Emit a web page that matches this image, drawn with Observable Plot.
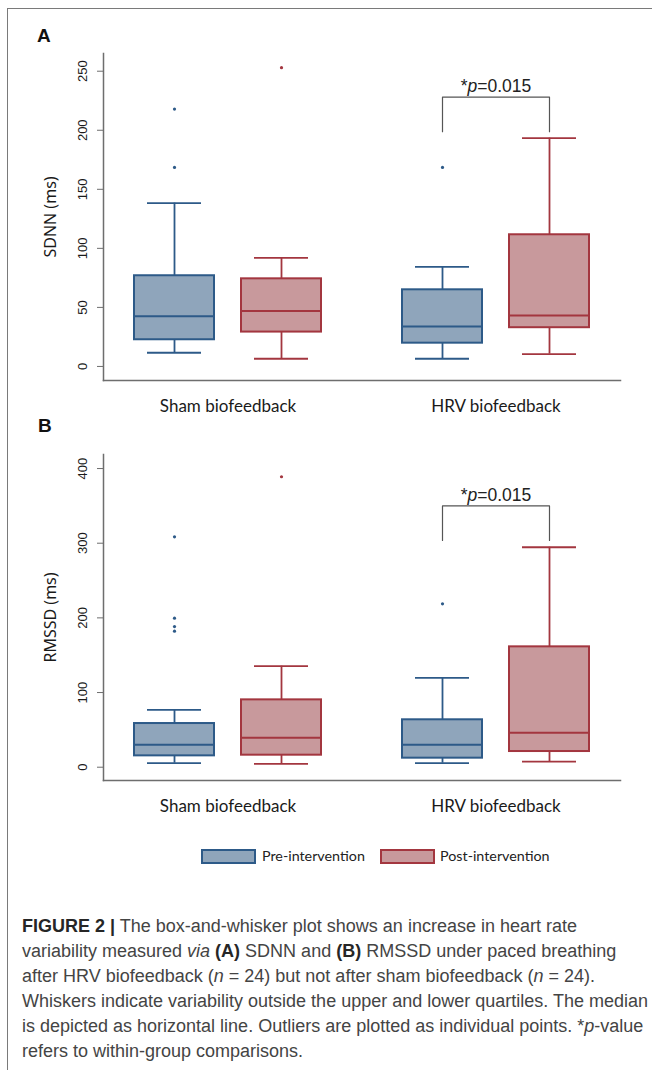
<!DOCTYPE html>
<html>
<head>
<meta charset="utf-8">
<script src="https://cdn.jsdelivr.net/npm/d3@7"></script>
<script src="https://cdn.jsdelivr.net/npm/@observablehq/plot@0.6"></script>
<style>
  body { margin: 0; background: #fff; }
  #page { position: relative; width: 652px; height: 1070px; overflow: hidden; background: #fff;
          font-family: "Liberation Sans", Arial, sans-serif; }
  #border { position: absolute; left: 7px; top: 8px; width: 700px; height: 1200px;
            border-left: 1.5px solid #7a7a7a; border-top: 1.5px solid #7a7a7a; }
  .panel { position: absolute; left: 0; width: 652px; }
  .plabel { position: absolute; font: bold 19px "Liberation Sans", Arial, sans-serif; color: #111; line-height: 1; }
  #legend { position: absolute; top: 848px; left: 0; width: 652px; height: 18px;
            font-family: Lato, "Open Sans", sans-serif; font-size: 14.3px; color: #222; }
  .sw { position: absolute; top: 1px; width: 51px; height: 11px; border: 2px solid; }
  .lt { position: absolute; top: -1px; white-space: nowrap; }
  #caption { position: absolute; left: 22px; top: 914px; font-family: "Liberation Sans", Arial, sans-serif;
             font-size: 18px; line-height: 25px; color: #444; white-space: nowrap; }
  #caption b { color: #262626; }
</style>
</head>
<body>
<div id="page">
  <div id="border"></div>
  <div id="panelA" class="panel" style="top:0px"></div>
  <div id="panelB" class="panel" style="top:400px"></div>
  <div class="plabel" style="left:37px; top:26px">A</div>
  <div class="plabel" style="left:38px; top:416px">B</div>
  <div id="legend"></div>
  <div id="caption"><b>FIGURE 2 |</b> The box-and-whisker plot shows an increase in heart rate<br>variability measured <i>via</i> <b>(A)</b> SDNN and <b>(B)</b> RMSSD under paced breathing<br>after HRV biofeedback (<i>n</i> = 24) but not after sham biofeedback (<i>n</i> = 24).<br>Whiskers indicate variability outside the upper and lower quartiles. The median<br>is depicted as horizontal line. Outliers are plotted as individual points. *<i>p</i>-value<br>refers to within-group comparisons.</div>
</div>
<script>
// ---------- data ----------
const groups = ["Sham biofeedback", "HRV biofeedback"];
const times = ["Pre-intervention", "Post-intervention"];
// cell order: Sham pre, Sham post, HRV pre, HRV post
const cellGroup = ["Sham biofeedback", "Sham biofeedback", "HRV biofeedback", "HRV biofeedback"];
const cellTime = ["Pre-intervention", "Post-intervention", "Pre-intervention", "Post-intervention"];

// Panel A: SDNN (ms)
const sdnnLow  = [11.6, 6.5, 6.5, 10.4];
const sdnnQ1   = [22.6, 29.1, 19.7, 32.8];
const sdnnMed  = [42.6, 46.9, 33.9, 43.2];
const sdnnQ3   = [76.8, 74.2, 64.9, 111.5];
const sdnnHigh = [138.3, 92.0, 84.4, 193.3];
const sdnnOut  = [[217.9, 168.5], [253.0], [168.5], []];
const sdnnTicks = [0, 50, 100, 150, 200, 250];
const sdnnBracket = [198.8, 228.0]; // leg bottom, bar top

// Panel B: RMSSD (ms)
const rmssdLow  = [5.4, 4.5, 5.4, 7.6];
const rmssdQ1   = [15.2, 16.1, 12.1, 21.0];
const rmssdMed  = [30.0, 39.4, 30.0, 46.0];
const rmssdQ3   = [58.5, 90.2, 63.5, 161.2];
const rmssdHigh = [76.8, 135.3, 119.7, 294.6];
const rmssdOut  = [[308.5, 199.6, 188.4, 182.2], [389.0], [218.8], []];
const rmssdTicks = [0, 100, 200, 300, 400];
const rmssdBracket = [303.6, 350.0];

const pLabel = "*p=0.015";
const bracketGroup = "HRV biofeedback";

// ---------- styles ----------
const blueFill = "#8fa5bb", blueStroke = "#2d5a88";
const redFill = "#c8999c", redStroke = "#a3363f";
const axisGray = "#6e6e6e";

function panel({low, q1, med, q3, high, out, ticks, yDomain, label, bracket, marginTop}) {
  const cells = cellGroup.map((g, i) => ({group: g, time: cellTime[i],
    low: low[i], q1: q1[i], med: med[i], q3: q3[i], high: high[i]}));
  const outliers = cells.flatMap((c, i) => out[i].map(v => ({group: c.group, time: c.time, v})));
  const br = [
    {group: bracketGroup, time: times[0], v: bracket[0]},
    {group: bracketGroup, time: times[0], v: bracket[1]},
    {group: bracketGroup, time: times[1], v: bracket[1]},
    {group: bracketGroup, time: times[1], v: bracket[0]}
  ];
  const marks = [];
  [[times[0], blueFill, blueStroke], [times[1], redFill, redStroke]].forEach(([t, f, s]) => {
    const c = cells.filter(d => d.time === t);
    const o = outliers.filter(d => d.time === t);
    const common = {fx: "group", x: "time", stroke: s};
    marks.push(
      Plot.ruleX(c, {...common, y1: "q3", y2: "high", strokeWidth: 1.8}),
      Plot.ruleX(c, {...common, y1: "low", y2: "q1", strokeWidth: 1.8}),
      Plot.tickY(c, {...common, y: "high", strokeWidth: 1.8, insetLeft: 13, insetRight: 13}),
      Plot.tickY(c, {...common, y: "low", strokeWidth: 1.8, insetLeft: 13, insetRight: 13}),
      Plot.barY(c, {...common, y1: "q1", y2: "q3", fill: f, strokeWidth: 2}),
      Plot.tickY(c, {...common, y: "med", strokeWidth: 2}),
      Plot.dot(o, {fx: "group", x: "time", y: "v", r: 1.6, fill: s, stroke: null})
    );
  });
  marks.push(
    Plot.line(br, {fx: "group", x: "time", y: "v", stroke: "#555", strokeWidth: 1.2}),
    Plot.text([br[1]], {fx: "group", y: "v", text: () => pLabel, dy: -5, lineAnchor: "bottom",
      fontSize: 17.5, fontFamily: "Liberation Sans, Arial, sans-serif", fill: "#222"}),
    Plot.frame({anchor: "left", facet: "super", stroke: axisGray, strokeWidth: 1.5}),
    Plot.frame({anchor: "bottom", facet: "super", stroke: axisGray, strokeWidth: 1.5}),
    Plot.axisY({ticks, tickSize: 6, tickFormat: () => "", stroke: axisGray,
      label, labelAnchor: "center", labelOffset: 59, labelArrow: "none"}),
    Plot.text(ticks, {fx: () => groups[0], y: d => d, text: d => String(d), frameAnchor: "left",
      rotate: -90, textAnchor: "middle", lineAnchor: "bottom", dx: -17, fontSize: 13,
      fontFamily: "Liberation Sans, Arial, sans-serif", fill: "#1a1a1a"}),
    Plot.axisFx({anchor: "bottom", label: null, tickSize: 0, tickPadding: 19, fontSize: 17,
      fontFamily: "Lato, Open Sans, sans-serif", fill: "#1a1a1a"})
  );
  const svg = Plot.plot({
    width: 652, height: 420,
    marginLeft: 103, marginRight: 32, marginTop, marginBottom: 40,
    style: {background: "none", overflow: "visible"},
    fx: {domain: groups, paddingInner: 0.0709, paddingOuter: 0},
    x: {domain: times, paddingInner: 0.2558, paddingOuter: 0.286, axis: null},
    y: {domain: yDomain, axis: null},
    marks
  });
  const sel = d3.select(svg);
  // italic "p" in the significance label
  sel.selectAll("text").filter(function() { return this.textContent === pLabel; })
    .each(function() {
      const el = d3.select(this);
      el.text(null);
      el.append("tspan").text("*");
      el.append("tspan").attr("font-style", "italic").text("p");
      el.append("tspan").text("=0.015");
    });
  sel.selectAll("text").filter(function() { return this.textContent === label; })
    .attr("font-size", 16).style("font-size", "16px").attr("fill", "#1a1a1a");
  return svg;
}

document.getElementById("panelA").appendChild(panel({
  low: sdnnLow, q1: sdnnQ1, med: sdnnMed, q3: sdnnQ3, high: sdnnHigh, out: sdnnOut,
  ticks: sdnnTicks, yDomain: [-11.9, 265], label: "SDNN (ms)", bracket: sdnnBracket, marginTop: 53
}));
document.getElementById("panelB").appendChild(panel({
  low: rmssdLow, q1: rmssdQ1, med: rmssdMed, q3: rmssdQ3, high: rmssdHigh, out: rmssdOut,
  ticks: rmssdTicks, yDomain: [-17.8, 418.8], label: "RMSSD (ms)", bracket: rmssdBracket, marginTop: 54
}));

// legend
const legend = d3.select("#legend");
[[times[0], blueFill, blueStroke, 201, 262], [times[1], redFill, redStroke, 380, 440]].forEach(([t, f, s, sx, tx]) => {
  legend.append("div").attr("class", "sw")
    .style("left", sx + "px").style("background", f).style("border-color", s);
  legend.append("div").attr("class", "lt").style("left", tx + "px").text(t);
});
</script>
</body>
</html>
